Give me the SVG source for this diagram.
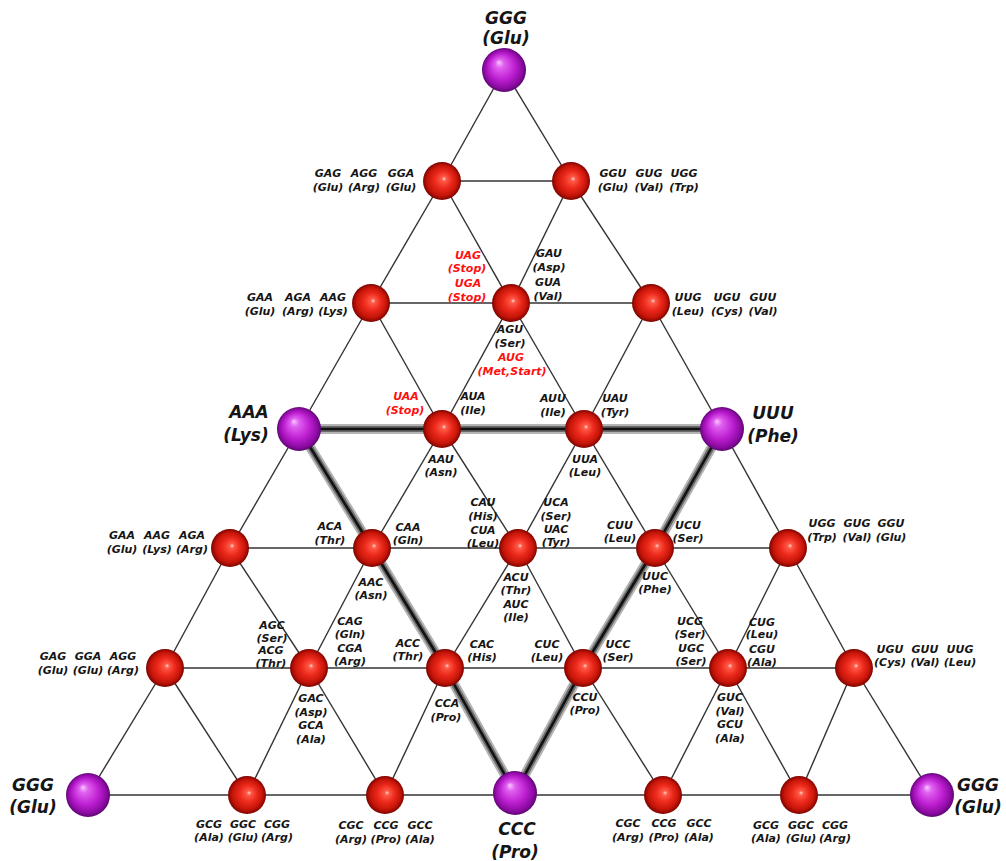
<svg xmlns="http://www.w3.org/2000/svg" width="1006" height="861" viewBox="0 0 1006 861">
<defs>
<radialGradient id="gRed" cx="0.5" cy="0.5" r="0.5" fx="0.56" fy="0.44">
<stop offset="0" stop-color="#ffd8d0"/>
<stop offset="0.12" stop-color="#ff5a48"/>
<stop offset="0.45" stop-color="#ec2a1c"/>
<stop offset="0.8" stop-color="#c41408"/>
<stop offset="1" stop-color="#7c0400"/>
</radialGradient>
<radialGradient id="gPur" cx="0.5" cy="0.5" r="0.5" fx="0.38" fy="0.32">
<stop offset="0" stop-color="#f8c8ff"/>
<stop offset="0.2" stop-color="#e060f0"/>
<stop offset="0.6" stop-color="#bc1ed0"/>
<stop offset="0.88" stop-color="#8a0aa0"/>
<stop offset="1" stop-color="#5c0670"/>
</radialGradient>
<style>
.e{stroke:#333;stroke-width:1.4;fill:none}
.red{fill:url(#gRed)}
.pur{fill:url(#gPur)}
text{font-family:"DejaVu Sans","Liberation Sans",sans-serif;font-weight:bold;font-style:italic;font-size:11px;fill:#151515;text-anchor:middle}
.r{fill:#ff1010}
.L{font-size:17px}
</style>
</defs>
<rect width="1006" height="861" fill="#fff"/>
<g id="connectors">
<line class="e" x1="442" y1="181" x2="571" y2="181"/>
<line class="e" x1="371" y1="303" x2="651" y2="303"/>
<line class="e" x1="230" y1="548" x2="788" y2="548"/>
<line class="e" x1="165" y1="668" x2="854" y2="668"/>
<line class="e" x1="88" y1="795" x2="932" y2="795"/>
<line class="e" x1="504" y1="70" x2="442" y2="181"/>
<line class="e" x1="504" y1="70" x2="571" y2="181"/>
<line class="e" x1="442" y1="181" x2="371" y2="303"/>
<line class="e" x1="442" y1="181" x2="511" y2="303"/>
<line class="e" x1="571" y1="181" x2="511" y2="303"/>
<line class="e" x1="571" y1="181" x2="651" y2="303"/>
<line class="e" x1="371" y1="303" x2="299" y2="429"/>
<line class="e" x1="371" y1="303" x2="442" y2="429"/>
<line class="e" x1="511" y1="303" x2="442" y2="429"/>
<line class="e" x1="511" y1="303" x2="584" y2="429"/>
<line class="e" x1="651" y1="303" x2="584" y2="429"/>
<line class="e" x1="651" y1="303" x2="722" y2="429"/>
<line class="e" x1="299" y1="429" x2="230" y2="548"/>
<line class="e" x1="442" y1="429" x2="372" y2="548"/>
<line class="e" x1="442" y1="429" x2="518" y2="548"/>
<line class="e" x1="584" y1="429" x2="518" y2="548"/>
<line class="e" x1="584" y1="429" x2="655" y2="548"/>
<line class="e" x1="722" y1="429" x2="788" y2="548"/>
<line class="e" x1="230" y1="548" x2="165" y2="668"/>
<line class="e" x1="230" y1="548" x2="309" y2="668"/>
<line class="e" x1="372" y1="548" x2="309" y2="668"/>
<line class="e" x1="518" y1="548" x2="445" y2="668"/>
<line class="e" x1="518" y1="548" x2="583" y2="668"/>
<line class="e" x1="655" y1="548" x2="728" y2="668"/>
<line class="e" x1="788" y1="548" x2="728" y2="668"/>
<line class="e" x1="788" y1="548" x2="854" y2="668"/>
<line class="e" x1="165" y1="668" x2="88" y2="795"/>
<line class="e" x1="165" y1="668" x2="247" y2="795"/>
<line class="e" x1="309" y1="668" x2="247" y2="795"/>
<line class="e" x1="309" y1="668" x2="385" y2="795"/>
<line class="e" x1="445" y1="668" x2="385" y2="795"/>
<line class="e" x1="583" y1="668" x2="663" y2="795"/>
<line class="e" x1="728" y1="668" x2="663" y2="795"/>
<line class="e" x1="728" y1="668" x2="799" y2="795"/>
<line class="e" x1="854" y1="668" x2="799" y2="795"/>
<line class="e" x1="854" y1="668" x2="932" y2="795"/>
<polygon points="299,429 372,548 445,668 515,793 583,668 655,548 722,429" fill="none" stroke="#b4b4b4" stroke-width="10" stroke-linejoin="round"/>
<polygon points="299,429 372,548 445,668 515,793 583,668 655,548 722,429" fill="none" stroke="#6a6a6a" stroke-width="6" stroke-linejoin="round"/>
<polygon points="299,429 372,548 445,668 515,793 583,668 655,548 722,429" fill="none" stroke="#111" stroke-width="2.5" stroke-linejoin="round"/>
</g>

<g id="n-top"><circle class="pur" cx="504" cy="70" r="22"/>
<text class="L" x="506" y="24">GGG</text><text class="L" x="506" y="44">(Glu)</text></g>

<g id="n1a"><circle class="red" cx="442" cy="181" r="19"/>
<text x="328" y="177">GAG</text><text x="328" y="191">(Glu)</text>
<text x="364" y="177">AGG</text><text x="364" y="191">(Arg)</text>
<text x="401" y="177">GGA</text><text x="401" y="191">(Glu)</text></g>
<g id="n1b"><circle class="red" cx="571" cy="181" r="19"/>
<text x="613" y="177">GGU</text><text x="613" y="191">(Glu)</text>
<text x="649" y="177">GUG</text><text x="649" y="191">(Val)</text>
<text x="684" y="177">UGG</text><text x="684" y="191">(Trp)</text></g>

<g id="n2a"><circle class="red" cx="371" cy="303" r="19"/>
<text x="260" y="301">GAA</text><text x="260" y="315">(Glu)</text>
<text x="298" y="301">AGA</text><text x="298" y="315">(Arg)</text>
<text x="333" y="301">AAG</text><text x="333" y="315">(Lys)</text></g>
<g id="n2b"><circle class="red" cx="511" cy="303" r="19"/>
<text class="r" x="468" y="259">UAG</text><text class="r" x="467" y="272">(Stop)</text>
<text class="r" x="468" y="287">UGA</text><text class="r" x="467" y="301">(Stop)</text>
<text x="549" y="257">GAU</text><text x="549" y="271">(Asp)</text>
<text x="548" y="286">GUA</text><text x="548" y="300">(Val)</text>
<text x="510" y="333">AGU</text><text x="510" y="347">(Ser)</text>
<text class="r" x="511" y="361">AUG</text><text class="r" x="512" y="375">(Met,Start)</text></g>
<g id="n2c"><circle class="red" cx="651" cy="303" r="19"/>
<text x="688" y="301">UUG</text><text x="688" y="315">(Leu)</text>
<text x="727" y="301">UGU</text><text x="727" y="315">(Cys)</text>
<text x="763" y="301">GUU</text><text x="763" y="315">(Val)</text></g>

<g id="n-AAA"><circle class="pur" cx="299" cy="429" r="22"/>
<text class="L" x="249" y="418">AAA</text><text class="L" x="246" y="441">(Lys)</text></g>
<g id="n3a"><circle class="red" cx="442" cy="429" r="19"/>
<text class="r" x="406" y="400">UAA</text><text class="r" x="405" y="414">(Stop)</text>
<text x="473" y="400">AUA</text><text x="473" y="414">(Ile)</text>
<text x="441" y="463">AAU</text><text x="441" y="476">(Asn)</text></g>
<g id="n3b"><circle class="red" cx="584" cy="429" r="19"/>
<text x="553" y="402">AUU</text><text x="553" y="416">(Ile)</text>
<text x="615" y="402">UAU</text><text x="615" y="416">(Tyr)</text>
<text x="585" y="463">UUA</text><text x="585" y="476">(Leu)</text></g>
<g id="n-UUU"><circle class="pur" cx="722" cy="429" r="22"/>
<text class="L" x="773" y="419">UUU</text><text class="L" x="773" y="442">(Phe)</text></g>

<g id="n4a"><circle class="red" cx="230" cy="548" r="19"/>
<text x="122" y="539">GAA</text><text x="122" y="553">(Glu)</text>
<text x="157" y="539">AAG</text><text x="157" y="553">(Lys)</text>
<text x="192" y="539">AGA</text><text x="192" y="553">(Arg)</text></g>
<g id="n4b"><circle class="red" cx="372" cy="548" r="19"/>
<text x="330" y="530">ACA</text><text x="330" y="544">(Thr)</text>
<text x="408" y="531">CAA</text><text x="408" y="544">(Gln)</text>
<text x="371" y="586">AAC</text><text x="371" y="599">(Asn)</text></g>
<g id="n4c"><circle class="red" cx="518" cy="548" r="19"/>
<text x="483" y="506">CAU</text><text x="483" y="520">(His)</text>
<text x="483" y="534">CUA</text><text x="483" y="547">(Leu)</text>
<text x="556" y="506">UCA</text><text x="556" y="520">(Ser)</text>
<text x="556" y="533">UAC</text><text x="556" y="546">(Tyr)</text>
<text x="516" y="581">ACU</text><text x="516" y="594">(Thr)</text>
<text x="516" y="608">AUC</text><text x="516" y="621">(Ile)</text></g>
<g id="n4d"><circle class="red" cx="655" cy="548" r="19"/>
<text x="620" y="529">CUU</text><text x="620" y="542">(Leu)</text>
<text x="688" y="529">UCU</text><text x="688" y="542">(Ser)</text>
<text x="655" y="580">UUC</text><text x="655" y="593">(Phe)</text></g>
<g id="n4e"><circle class="red" cx="788" cy="548" r="19"/>
<text x="822" y="527">UGG</text><text x="822" y="541">(Trp)</text>
<text x="857" y="527">GUG</text><text x="857" y="541">(Val)</text>
<text x="891" y="527">GGU</text><text x="891" y="541">(Glu)</text></g>

<g id="n5a"><circle class="red" cx="165" cy="668" r="19"/>
<text x="53" y="660">GAG</text><text x="53" y="674">(Glu)</text>
<text x="88" y="660">GGA</text><text x="88" y="674">(Glu)</text>
<text x="123" y="660">AGG</text><text x="123" y="674">(Arg)</text></g>
<g id="n5b"><circle class="red" cx="309" cy="668" r="19"/>
<text x="272" y="629">AGC</text><text x="272" y="642">(Ser)</text>
<text x="271" y="654">ACG</text><text x="271" y="667">(Thr)</text>
<text x="350" y="625">CAG</text><text x="350" y="638">(Gln)</text>
<text x="350" y="652">CGA</text><text x="350" y="665">(Arg)</text>
<text x="311" y="702">GAC</text><text x="311" y="716">(Asp)</text>
<text x="311" y="729">GCA</text><text x="311" y="743">(Ala)</text></g>
<g id="n5c"><circle class="red" cx="445" cy="668" r="19"/>
<text x="408" y="647">ACC</text><text x="408" y="660">(Thr)</text>
<text x="482" y="648">CAC</text><text x="482" y="661">(His)</text>
<text x="447" y="707">CCA</text><text x="446" y="721">(Pro)</text></g>
<g id="n5d"><circle class="red" cx="583" cy="668" r="19"/>
<text x="547" y="648">CUC</text><text x="547" y="661">(Leu)</text>
<text x="618" y="648">UCC</text><text x="618" y="661">(Ser)</text>
<text x="585" y="701">CCU</text><text x="585" y="714">(Pro)</text></g>
<g id="n5e"><circle class="red" cx="728" cy="668" r="19"/>
<text x="690" y="625">UCG</text><text x="690" y="638">(Ser)</text>
<text x="691" y="652">UGC</text><text x="691" y="665">(Ser)</text>
<text x="762" y="626">CUG</text><text x="762" y="638">(Leu)</text>
<text x="762" y="653">CGU</text><text x="762" y="666">(Ala)</text>
<text x="730" y="701">GUC</text><text x="730" y="715">(Val)</text>
<text x="730" y="728">GCU</text><text x="730" y="742">(Ala)</text></g>
<g id="n5f"><circle class="red" cx="854" cy="668" r="19"/>
<text x="890" y="653">UGU</text><text x="890" y="666">(Cys)</text>
<text x="925" y="653">GUU</text><text x="925" y="666">(Val)</text>
<text x="960" y="653">UUG</text><text x="960" y="666">(Leu)</text></g>

<g id="n-GL"><circle class="pur" cx="88" cy="795" r="22"/>
<text class="L" x="33" y="791">GGG</text><text class="L" x="33" y="813">(Glu)</text></g>
<g id="n6a"><circle class="red" cx="247" cy="795" r="19"/>
<text x="209" y="828">GCG</text><text x="209" y="841">(Ala)</text>
<text x="243" y="828">GGC</text><text x="243" y="841">(Glu)</text>
<text x="277" y="828">CGG</text><text x="277" y="841">(Arg)</text></g>
<g id="n6b"><circle class="red" cx="385" cy="795" r="19"/>
<text x="351" y="829">CGC</text><text x="351" y="843">(Arg)</text>
<text x="386" y="829">CCG</text><text x="386" y="843">(Pro)</text>
<text x="420" y="829">GCC</text><text x="420" y="843">(Ala)</text></g>
<g id="n-CCC"><circle class="pur" cx="515" cy="793" r="22"/>
<text class="L" x="517" y="835">CCC</text><text class="L" x="515" y="858">(Pro)</text></g>
<g id="n6c"><circle class="red" cx="663" cy="795" r="19"/>
<text x="628" y="827">CGC</text><text x="628" y="841">(Arg)</text>
<text x="664" y="827">CCG</text><text x="664" y="841">(Pro)</text>
<text x="699" y="827">GCC</text><text x="699" y="841">(Ala)</text></g>
<g id="n6d"><circle class="red" cx="799" cy="795" r="19"/>
<text x="766" y="829">GCG</text><text x="766" y="842">(Ala)</text>
<text x="801" y="829">GGC</text><text x="801" y="842">(Glu)</text>
<text x="835" y="829">CGG</text><text x="835" y="842">(Arg)</text></g>
<g id="n-GR"><circle class="pur" cx="932" cy="795" r="22"/>
<text class="L" x="978" y="791">GGG</text><text class="L" x="978" y="813">(Glu)</text></g>
</svg>
